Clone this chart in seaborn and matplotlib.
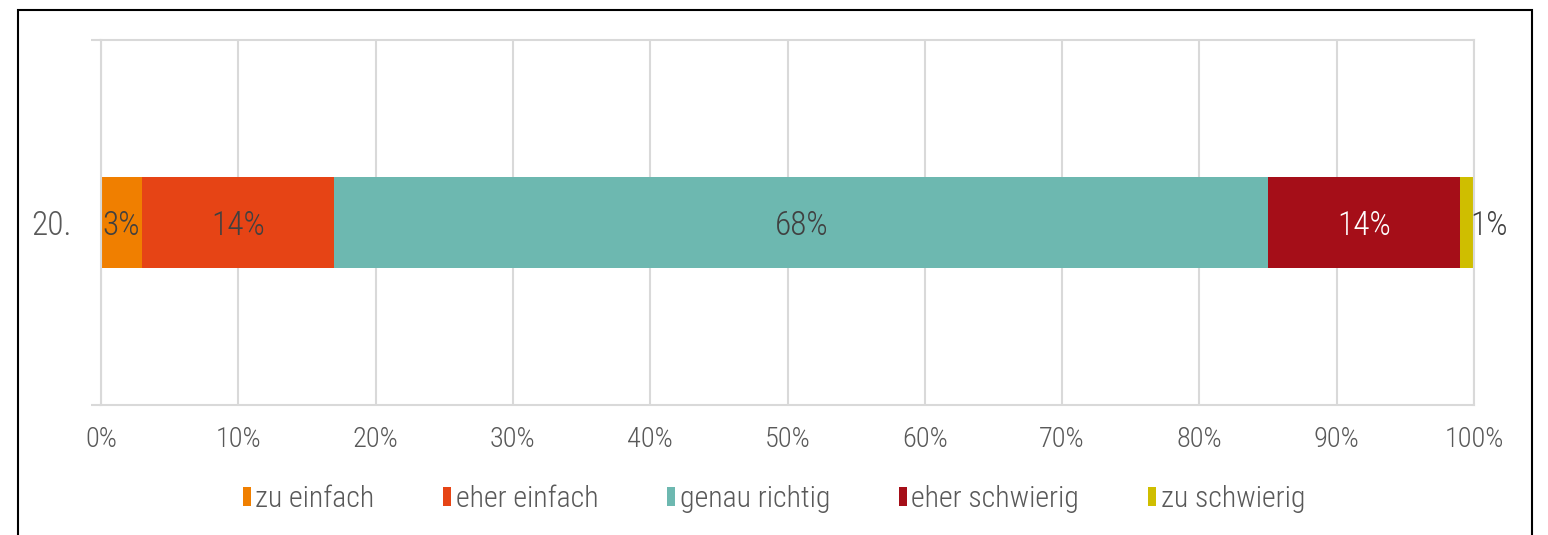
import pandas as pd
import matplotlib
matplotlib.use('Agg')
import matplotlib.pyplot as plt
import seaborn as sns
from matplotlib.patches import Rectangle, Patch

#-------------------------------------------------------------------------

# Data
question = ['20.']
answers = ['zu einfach', 'eher einfach', 'genau richtig', 'eher schwierig', 'zu schwierig']
shares = [3, 14, 68, 14, 1]
colors = ['#F07F00', '#E64415', '#6DB8B0', '#A50E18', '#CFBE00']
label_colors = ['#404040', '#404040', '#404040', '#FFFFFF', '#404040']

#-------------------------------------------------------------------------

sns.set_theme(style='white')
plt.rcParams['font.family'] = ['Roboto Condensed', 'Liberation Sans Narrow', 'Roboto', 'DejaVu Sans']
plt.rcParams['font.weight'] = 'light'

grid_col = '#D9D9D9'
text_col = '#595959'

fig = plt.figure(figsize=(15.48, 5.35), dpi=100)
ax = fig.add_axes([101/1548, 1 - 405/535, (1474 - 101)/1548, (405 - 40)/535])

# Stacked horizontal bar, one segment per answer
left = 0
for ans, val, col, lc in zip(answers, shares, colors, label_colors):
    df = pd.DataFrame({'q': question, 'v': [val]})
    sns.barplot(data=df, x='v', y='q', orient='h', color=col, width=0.25,
                left=left, ax=ax, saturation=1, linewidth=0)
    cont = ax.containers[-1]
    if ans == 'zu schwierig':
        lbls = ax.bar_label(cont, labels=[f'{val}%'], label_type='edge', padding=-3,
                            color=lc, fontsize=24)
    else:
        lbls = ax.bar_label(cont, labels=[f'{val}%'], label_type='center',
                            color=lc, fontsize=24)
    for t in lbls:
        t.set_va('center_baseline')
    left += val

ax.set_xlim(0, 100)
ax.set_ylim(0.5, -0.5)
ax.set_xticks(range(0, 101, 10))
ax.set_xticklabels([f'{t}%' for t in range(0, 101, 10)])
ax.set_xlabel('')
ax.set_ylabel('')

# Gridlines and frame of plot area
ax.grid(axis='x', color=grid_col, linewidth=1.5)
ax.set_axisbelow(True)
for s in ax.spines.values():
    s.set_visible(True)
    s.set_color(grid_col)
    s.set_linewidth(1.5)

ax.tick_params(axis='x', length=0, pad=15, labelsize=20.5, labelcolor=text_col)
ax.tick_params(axis='y', which='major', length=0, pad=21, labelsize=24, labelcolor=text_col)
ax.set_yticks([-0.5, 0.5], minor=True)
ax.tick_params(axis='y', which='minor', length=7.2, width=1.5, color=grid_col, left=True)

# Legend
handles = [Patch(facecolor=c, edgecolor='none') for c in colors]
fig.legend(handles, answers, loc='center', bbox_to_anchor=(0.5, 0.068), ncol=5,
           frameon=False, fontsize=21.5, labelcolor=text_col,
           handlelength=0.27, handleheight=0.6, handletextpad=0.15, columnspacing=2.3)

# Outer chart border
fig.add_artist(Rectangle((18/1548, -0.1), (1532 - 18)/1548, 1.1 - 10/535,
                         transform=fig.transFigure, fill=False, edgecolor='black',
                         linewidth=1.5, clip_on=False))

fig.savefig('out.png', dpi=100)
